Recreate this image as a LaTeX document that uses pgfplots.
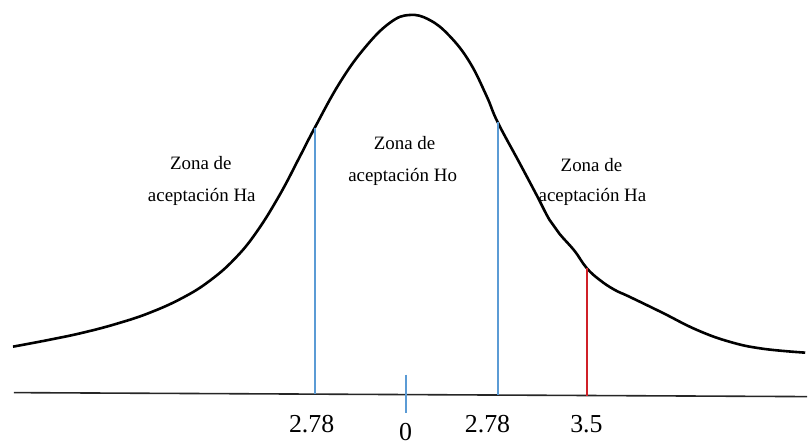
\documentclass[border=0pt]{standalone}
\usepackage{fontspec}
\setmainfont{Liberation Serif}
\usepackage{pgfplots}
\pgfplotsset{compat=1.18}

\definecolor{lineblue}{RGB}{91,155,213}
\definecolor{linered}{RGB}{208,32,40}

\tikzset{
    numlab/.style={font=\fontsize{26}{30}\selectfont, anchor=base, inner sep=0pt},
    zlab/.style={font=\fontsize{19}{22}\selectfont, anchor=base, inner sep=0pt},
}

% curve traced in picture units (x to the right, y downward)
\pgfplotstableread{
x y
13 347
50 340
83 333
117 324
150 313
183 298
210 281
235 259
257 232
280 195
300 157
315 128
340 83
365 48
390 23
410 15
430 20
450 36
470 62
487 96
498 122
520 163
537 195
550 220
560 234
575 251
587 268
600 280
615 290
630 297
663 313
697 330
730 342
763 349
806 353
}\curve

\begin{document}
\begin{tikzpicture}
\begin{axis}[
    scale only axis,
    width=808bp, height=448bp,
    xmin=0, xmax=808, ymin=0, ymax=448,
    y dir=reverse,
    axis lines=box,
    axis line style={draw=none},
    ticks=none,
    clip=false,
]
% base line
\addplot[draw=black!85, line width=1.6bp] coordinates {(14,393) (808,397)};

% bell curve
\addplot[black, line width=2.6bp, smooth, tension=0.7] table[x=x, y=y] {\curve};

% critical values
\addplot[lineblue, line width=1.6bp] coordinates {(315.3,128) (315.3,394)};
\addplot[lineblue, line width=1.6bp] coordinates {(498.3,122) (498.3,395)};
\addplot[linered, line width=1.6bp] coordinates {(587.3,268) (587.3,396)};
\addplot[lineblue, line width=1.6bp] coordinates {(406.3,375) (406.3,413)};

% axis numbers
\node[numlab] at (axis cs:312,433) {2.78};
\node[numlab] at (axis cs:406,441) {0};
\node[numlab] at (axis cs:488,433) {2.78};
\node[numlab] at (axis cs:587,433) {3.5};

% zones
\node[zlab] at (axis cs:201,170) {Zona de};
\node[zlab] at (axis cs:202,202) {aceptación Ha};
\node[zlab] at (axis cs:405,150) {Zona de};
\node[zlab] at (axis cs:403,182) {aceptación Ho};
\node[zlab] at (axis cs:592,172) {Zona de};
\node[zlab] at (axis cs:593,202) {aceptación Ha};
\end{axis}
\end{tikzpicture}
\end{document}
